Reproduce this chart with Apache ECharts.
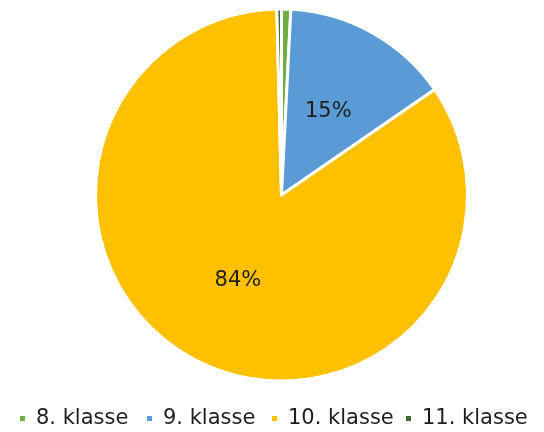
<!DOCTYPE html>
<html><head><meta charset="utf-8">
<script src="https://cdn.jsdelivr.net/npm/echarts@6/dist/echarts.min.js"></script>
<style>html,body{margin:0;padding:0;background:#fff}#c{width:544px;height:432px}</style>
</head><body><div id="c"></div>
<script>
const categories = ['8. klasse', '9. klasse', '10. klasse', '11. klasse'];
const values = [0.8, 14.6, 84.2, 0.4];
const labels = ['', '15%', '84%', ''];
const colors = ['#70AD47', '#5B9BD5', '#FFC000', '#43682B'];
const legendLeft = [18, 145, 270, 404];

const chart = echarts.init(document.getElementById('c'));
chart.setOption({
  animation: false,
  color: colors,
  legend: categories.map((c, i) => ({
    top: 408,
    left: legendLeft[i],
    padding: 0,
    icon: 'rect',
    itemWidth: 7,
    itemHeight: 7,
    textStyle: { fontFamily: 'DejaVu Sans', fontSize: 21, color: '#1e1e1e', padding: [0, 0, 0, 5] },
    data: [c]
  })),
  series: [{
    type: 'pie',
    center: [281.5, 195],
    radius: [0, 186],
    startAngle: 90,
    clockwise: true,
    itemStyle: { borderColor: '#fff', borderWidth: 3 },
    label: {
      show: true,
      position: 'inside',
      fontFamily: 'DejaVu Sans',
      fontSize: 21,
      color: '#1e1e1e',
      formatter: p => labels[p.dataIndex]
    },
    labelLine: { show: false },
    data: categories.map((c, i) => ({ name: c, value: values[i] }))
  }]
});
</script></body></html>
